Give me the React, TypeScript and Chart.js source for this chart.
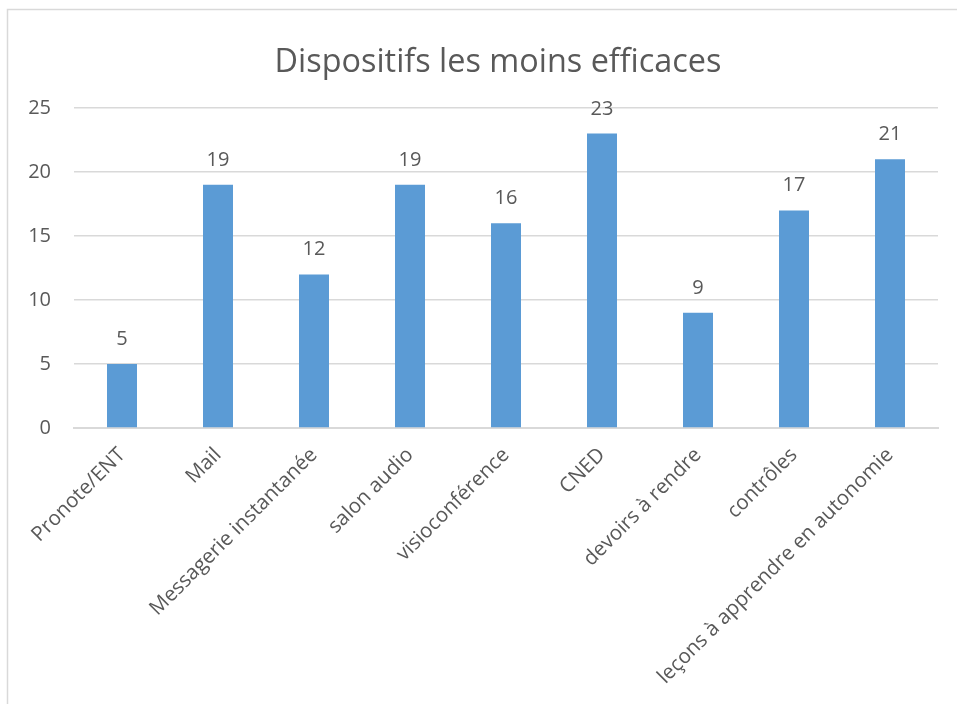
import React, { useEffect, useRef } from "react";
import { Chart, registerables } from "chart.js";

Chart.register(...registerables);

const TITLE = "Dispositifs les moins efficaces";
const categories = [
  "Pronote/ENT",
  "Mail",
  "Messagerie instantanée",
  "salon audio",
  "visioconférence",
  "CNED",
  "devoirs à rendre",
  "contrôles",
  "leçons à apprendre en autonomie",
];
const values = [5, 19, 12, 19, 16, 23, 9, 17, 21];
const yTicks = [0, 5, 10, 15, 20, 25];

const FONT = "'Open Sans', sans-serif";
const TEXT = "#595959";
const GRID = "#D9D9D9";
const BAR = "#5B9BD5";

export default function App() {
  const ref = useRef<HTMLCanvasElement | null>(null);
  useEffect(() => {
    if (!ref.current) return;
    const decor = {
      id: "decor",
      beforeDraw(chart: any) {
        const ctx = chart.ctx;
        ctx.save();
        ctx.fillStyle = "#fff";
        ctx.fillRect(0, 0, chart.width, chart.height);
        ctx.strokeStyle = GRID;
        ctx.lineWidth = 1.5;
        ctx.strokeRect(7.5, 9.5, 2000, 2000);
        ctx.restore();
      },
      afterDatasetsDraw(chart: any) {
        const ctx = chart.ctx;
        ctx.save();
        ctx.fillStyle = TEXT;
        ctx.font = `32.4px ${FONT}`;
        ctx.textAlign = "center";
        ctx.textBaseline = "middle";
        ctx.fillText(TITLE, 498, 63);
        ctx.font = `20px ${FONT}`;
        ctx.textBaseline = "alphabetic";
        const meta = chart.getDatasetMeta(0);
        meta.data.forEach((bar: any, i: number) => {
          ctx.fillText(String(values[i]), bar.x, bar.y - 19);
        });
        ctx.restore();
      },
    };
    const chart = new Chart(ref.current, {
      type: "bar",
      data: {
        labels: categories,
        datasets: [
          {
            data: values,
            backgroundColor: BAR,
            categoryPercentage: 1,
            barPercentage: 0.3125,
          },
        ],
      },
      options: {
        animation: false,
        responsive: false,
        devicePixelRatio: 1,
        layout: { padding: { left: 0, top: 108, right: 19, bottom: 0 } },
        plugins: {
          legend: { display: false },
          title: { display: false },
          tooltip: { enabled: false },
        },
        scales: {
          x: {
            grid: { display: false, drawTicks: false },
            border: { color: GRID, width: 2 },
            ticks: {
              color: TEXT,
              font: { family: FONT, size: 20.5 },
              maxRotation: 45,
              minRotation: 45,
              padding: 15,
              autoSkip: false,
            },
            afterFit(scale: any) {
              scale.height = 276;
            },
          },
          y: {
            min: 0,
            max: 25,
            afterBuildTicks(scale: any) {
              scale.ticks = yTicks.map((v) => ({ value: v }));
            },
            grid: { color: GRID, lineWidth: 1.5, drawTicks: false },
            border: { display: false },
            ticks: {
              color: TEXT,
              font: { family: FONT, size: 20 },
              padding: 23,
            },
            afterFit(scale: any) {
              scale.width = 74;
            },
          },
        },
      },
      plugins: [decor],
    });
    return () => chart.destroy();
  }, []);
  return (
    <div style={{ position: "absolute", left: 0, top: 0, width: 957, height: 704 }}>
      <canvas ref={ref} width={957} height={704} style={{ display: "block" }} />
    </div>
  );
}
